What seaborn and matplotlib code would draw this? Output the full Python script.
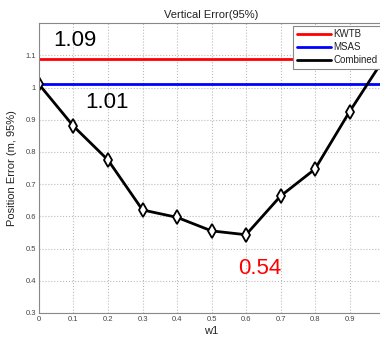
import pandas as pd
import numpy as np
import matplotlib.pyplot as plt
import seaborn as sns
from matplotlib.lines import Line2D

# data
w1 = [0.0, 0.1, 0.2, 0.3, 0.4, 0.5, 0.6, 0.7, 0.8, 0.9, 1.0]
combined = [1.01, 0.88, 0.775, 0.62, 0.597, 0.555, 0.543, 0.663, 0.747, 0.925, 1.09]
kwtb = 1.09
msas = 1.01

df = pd.DataFrame({'w1': w1, 'Combined': combined})

sns.set_style('whitegrid')
plt.rcParams['font.family'] = ['Liberation Sans', 'DejaVu Sans']

fig = plt.figure(figsize=(3.8, 3.39), dpi=100)
ax = fig.add_axes([0.1026, 0.0767, 0.908, 0.855])

ax.axhline(kwtb, color='#ff0000', lw=2)
ax.axhline(msas, color='#0000ff', lw=2)
sns.lineplot(data=df, x='w1', y='Combined', ax=ax, color='black', lw=2,
             marker='d', markersize=7, markerfacecolor='white',
             markeredgecolor='black', markeredgewidth=1.3, legend=False)

ax.set_xlim(0, 1)
ax.set_ylim(0.3, 1.2)
ax.set_xticks(np.arange(0, 1.0, 0.1))
ax.set_xticklabels(['0', '0.1', '0.2', '0.3', '0.4', '0.5', '0.6', '0.7', '0.8', '0.9'])
ax.set_yticks([0.3, 0.4, 0.5, 0.6, 0.7, 0.8, 0.9, 1.0, 1.1])
ax.set_yticklabels(['0.3', '0.4', '0.5', '0.6', '0.7', '0.8', '0.9', '1', '1.1'])
ax.tick_params(labelsize=5.5, colors='#444444', length=0, pad=2)
ax.grid(True, color='#bbbbbb', linestyle=':', lw=0.8)
for s in ax.spines.values():
    s.set_color('#888888')
    s.set_linewidth(0.8)

ax.set_title('Vertical Error(95%)', fontsize=8, pad=4, color='#222222')
ax.set_xlabel('w1', fontsize=8, labelpad=2, color='#222222')
ax.set_ylabel('Position Error (m, 95%)', fontsize=8, labelpad=6, color='#222222')

ax.text(0.104, 1.145, '1.09', fontsize=16, ha='center', va='center', color='black')
ax.text(0.197, 0.955, '1.01', fontsize=16, ha='center', va='center', color='black')
ax.text(0.64, 0.438, '0.54', fontsize=16, color='#ff0000', ha='center', va='center')

handles = [Line2D([], [], color='#ff0000', lw=2),
           Line2D([], [], color='#0000ff', lw=2),
           Line2D([], [], color='black', lw=2)]
leg = ax.legend(handles, ['KWTB', 'MSAS', 'Combined'], loc='upper right',
                fontsize=7, frameon=True, fancybox=False, framealpha=1,
                borderaxespad=0.3, handlelength=3.5, handletextpad=0.3,
                labelspacing=0.3, borderpad=0.35)
leg.get_frame().set_edgecolor('#888888')
leg.get_frame().set_linewidth(0.8)
for t in leg.get_texts():
    t.set_color('#222222')

fig.savefig('out.png', dpi=100)
